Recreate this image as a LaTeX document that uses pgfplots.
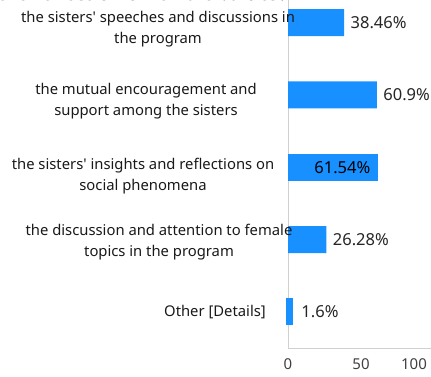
\documentclass[border=0pt]{standalone}
\usepackage{pgfplots}
\pgfplotsset{compat=1.18}
\usepackage{fontspec}
\setmainfont{Noto Sans}
\newfontfamily\titlefont{Liberation Serif}
\definecolor{barblue}{HTML}{1890FF}
\definecolor{axgray}{HTML}{D0D0D0}
\begin{document}
\begin{tikzpicture}[x=1pt,y=1pt]
\node[anchor=base west, font=\titlefont\bfseries\fontsize{22}{24}\selectfont, inner sep=0pt] at (-2pt,375pt) {the reflection of female values?};
\begin{axis}[
  at={(288pt,28pt)}, anchor=south west,
  scale only axis, width=146pt, height=361.5pt,
  xbar, bar width=27pt, bar shift=0pt,
  xmin=0, xmax=100, ymin=-0.5, ymax=4.5,
  axis lines*=left,
  axis line style={axgray, line width=0.8pt},
  ytick=\empty, xtick={0,50,100},
  xticklabels={0,50,\hspace*{-40pt}100},
  major tick length=0pt,
  xticklabel style={font=\fontsize{15}{18}\selectfont, text=black!75, yshift=-7pt},
  clip=false,
  nodes near coords,
  point meta=explicit symbolic,
  every node near coord/.style={font=\fontsize{16.5}{20}\selectfont, anchor=west, xshift=3pt, text=black!85},
]
\addplot[fill=barblue, draw=none] coordinates {(38.46,4) [38.46\%] (60.9,3) [60.9\%] (26.28,1) [26.28\%]};
\addplot[fill=barblue, draw=barblue, line width=4.6pt, bar width=22.4pt, every node near coord/.append style={xshift=2.5pt}] coordinates {(1.6,0) [1.6\%]};
\addplot[fill=barblue, draw=none, every node near coord/.append style={anchor=east, xshift=-7pt, text=black}] coordinates {(61.54,2) [61.54\%]};
\end{axis}
\begin{scope}[every node/.style={align=center, font=\fontsize{14.8}{21}\selectfont, text=black!90, inner sep=0pt}]
\node at (158pt,{376pt-29pt}) {the sisters\textquotesingle\ speeches and discussions in\\the program};
\node at (146pt,{376pt-101pt}) {the mutual encouragement and\\support among the sisters};
\node at (143pt,{376pt-176pt}) {the sisters\textquotesingle\ insights and reflections on\\social phenomena};
\node at (159pt,{376pt-242pt}) {the discussion and attention to female\\topics in the program};
\node at (215pt,{376pt-312pt}) {Other [Details]};
\end{scope}
\pgfresetboundingbox
\path[use as bounding box] (0,0) rectangle (431pt,376pt);
\end{tikzpicture}
\end{document}
